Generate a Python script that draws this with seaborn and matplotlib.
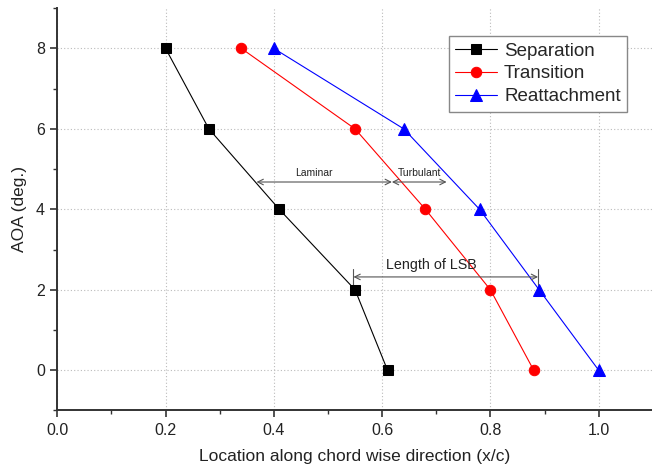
import matplotlib
matplotlib.use("Agg")
import matplotlib.pyplot as plt
import seaborn as sns
import pandas as pd
from matplotlib.ticker import MultipleLocator

# ---- data ----
aoa = [8, 6, 4, 2, 0]
separation = [0.20, 0.28, 0.41, 0.55, 0.61]
transition = [0.34, 0.55, 0.68, 0.80, 0.88]
aoa_reat = [8, 6, 4, 2, 0]
reattachment = [0.40, 0.64, 0.78, 0.89, 1.00]

series_names = ["Separation", "Transition", "Reattachment"]
x_label = "Location along chord wise direction (x/c)"
y_label = "AOA (deg.)"

laminar_span = [0.368, 0.618]
turbulent_span = [0.618, 0.719]
regime_aoa = 4.68
lsb_span = [0.547, 0.888]
lsb_aoa = 2.32

sns.set_theme(style="ticks")
plt.rcParams["font.family"] = ["Liberation Sans", "DejaVu Sans"]

df = pd.concat([
    pd.DataFrame({"x": separation, "aoa": aoa, "kind": series_names[0]}),
    pd.DataFrame({"x": transition, "aoa": aoa, "kind": series_names[1]}),
    pd.DataFrame({"x": reattachment, "aoa": aoa_reat, "kind": series_names[2]}),
])

fig = plt.figure(figsize=(6.52, 4.75), dpi=100)
ax = fig.add_axes([0.0879, 0.1358, 0.9134, 0.8469])

styles = {
    "Separation": dict(color="black", marker="s", ms=6.5),
    "Transition": dict(color="#ff0000", marker="o", ms=7.5),
    "Reattachment": dict(color="#0000ff", marker="^", ms=8),
}
for name in series_names:
    st = styles[name]
    sub = df[df["kind"] == name]
    sns.lineplot(data=sub, x="x", y="aoa", ax=ax, sort=False, label=name,
                 color=st["color"], marker=st["marker"], markersize=st["ms"],
                 markeredgecolor=st["color"], lw=0.8, alpha=1.0)

for ln in ax.get_lines():
    ln.set_zorder(3)

ax.set_xlim(0, 1.1)
ax.set_ylim(-1, 9)
ax.xaxis.set_major_locator(MultipleLocator(0.2))
ax.xaxis.set_minor_locator(MultipleLocator(0.1))
ax.yaxis.set_major_locator(MultipleLocator(2))
ax.yaxis.set_minor_locator(MultipleLocator(1))
ax.set_xticks([0.0, 0.2, 0.4, 0.6, 0.8, 1.0])
ax.set_xticklabels(["0.0", "0.2", "0.4", "0.6", "0.8", "1.0"])
ax.set_yticks([0, 2, 4, 6, 8])

ax.grid(True, which="major", linestyle=(0, (1, 2)), color="#bbbbbb", lw=0.8)
ax.set_axisbelow(True)

for s in ["top", "right"]:
    ax.spines[s].set_visible(False)
for s in ["left", "bottom"]:
    ax.spines[s].set_color("#333333")
    ax.spines[s].set_linewidth(1.4)

ax.tick_params(axis="both", which="major", direction="out", length=5, width=1.2,
               color="#333333", labelsize=11.5, labelcolor="#222222", pad=4)
ax.tick_params(axis="both", which="minor", direction="out", length=3, width=1.0,
               color="#333333")

ax.set_xlabel(x_label, fontsize=12.5, color="#222222", labelpad=8)
ax.set_ylabel(y_label, fontsize=12.5, color="#222222", labelpad=6)

# annotations
arrow_kw = dict(arrowstyle="<->", color="#555555", lw=0.8, shrinkA=0, shrinkB=0,
                mutation_scale=10)
ax.annotate("", xy=(laminar_span[0], regime_aoa), xytext=(laminar_span[1], regime_aoa),
            arrowprops=arrow_kw)
ax.annotate("", xy=(turbulent_span[0], regime_aoa), xytext=(turbulent_span[1], regime_aoa),
            arrowprops=arrow_kw)
ax.text(sum(laminar_span) / 2 - 0.02, regime_aoa + 0.1, "Laminar", fontsize=7.5,
        ha="center", va="bottom", color="#222222")
ax.text(sum(turbulent_span) / 2, regime_aoa + 0.1, "Turbulant", fontsize=7.5,
        ha="center", va="bottom", color="#222222")

ax.annotate("", xy=(lsb_span[0], lsb_aoa), xytext=(lsb_span[1], lsb_aoa),
            arrowprops=arrow_kw)
ax.plot([lsb_span[0], lsb_span[0]], [2.12, 2.52], color="#555555", lw=0.8)
ax.plot([lsb_span[1], lsb_span[1]], [2.12, 2.52], color="#555555", lw=0.8)
ax.text(0.691, lsb_aoa + 0.12, "Length of LSB", fontsize=10.3, ha="center",
        va="bottom", color="#222222")

leg = ax.legend(loc="upper right", bbox_to_anchor=(0.957, 0.931), borderaxespad=0,
                fontsize=13.5, frameon=True, fancybox=False, framealpha=1,
                edgecolor="#888888", handlelength=2.2, handletextpad=0.4,
                labelspacing=0.3, borderpad=0.35)
leg.get_frame().set_linewidth(1.0)
for h in leg.get_lines():
    h.set_alpha(1.0)

fig.savefig("out.png", dpi=100)
